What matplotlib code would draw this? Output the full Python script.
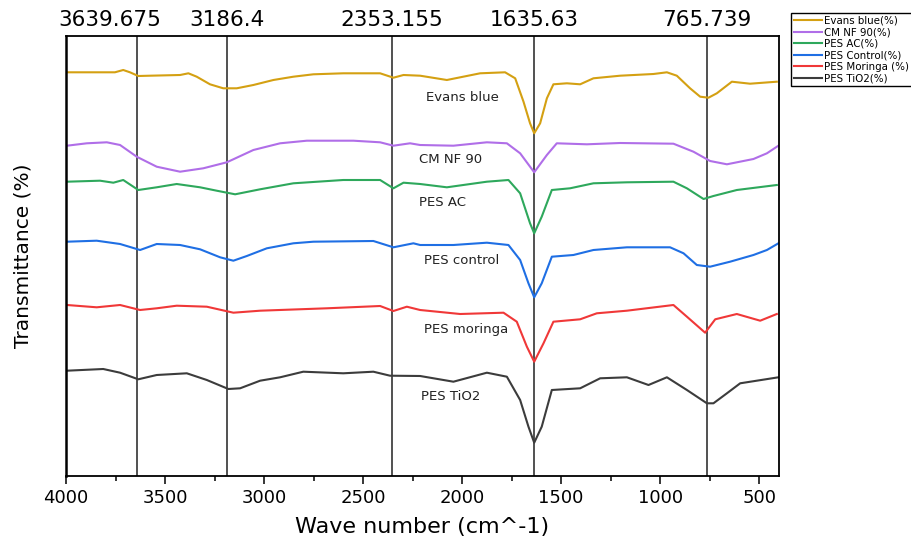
import matplotlib
matplotlib.use("Agg")
import matplotlib.pyplot as plt

# FTIR spectra, offset transmittance (arbitrary units)
evans_wn = [3995, 3753, 3711, 3677, 3635, 3576, 3424, 3382, 3340, 3273, 3206, 3138, 3054, 2953,
            2852, 2751, 2600, 2414, 2347, 2296, 2212, 2077, 1909, 1783, 1732, 1690, 1657, 1636,
            1606, 1572, 1539, 1471, 1404, 1337, 1202, 1034, 966, 916, 849, 798, 756, 714, 638,
            546, 411]
evans_t = [403.7, 403.7, 406, 403.7, 400, 400.3, 401, 402.7, 399.3, 391.7, 387.7, 387.7, 391, 396,
           399.3, 401.7, 402.7, 402.7, 398.3, 401, 400.3, 396, 402.7, 403.7, 397.7, 374.3, 352.7,
           342.7, 352.7, 377.7, 391.7, 392.7, 391.7, 397.7, 400.3, 402, 403.7, 400.3, 387.7, 379.3,
           378.3, 382.7, 394.3, 392.3, 394.3]

cmnf_wn = [3995, 3895, 3794, 3727, 3643, 3542, 3424, 3307, 3188, 3054, 2919, 2784, 2549, 2414,
           2347, 2263, 2212, 2044, 1875, 1774, 1707, 1636, 1572, 1522, 1370, 1202, 933, 832, 748,
           663, 529, 461, 403]
cmnf_t = [330.3, 332.7, 333.7, 331, 319.3, 309.3, 304.3, 307.7, 313.7, 326, 332.7, 335.3, 335.3,
          333.7, 330.3, 332.7, 331, 330.3, 333.7, 332.7, 322.7, 303.7, 321, 332.7, 331.7, 333,
          332.3, 324.3, 315, 311.7, 317, 322.7, 330.3]

ac_wn = [3995, 3828, 3761, 3711, 3635, 3542, 3441, 3323, 3239, 3146, 3020, 2852, 2600, 2414, 2347,
         2296, 2212, 2077, 1875, 1766, 1707, 1657, 1636, 1598, 1547, 1455, 1337, 1168, 933, 865,
         781, 731, 613, 411]
ac_t = [294.3, 295.3, 293.3, 296, 286, 288.7, 292, 288.7, 285.3, 281.7, 286.7, 292.7, 296, 296,
        287.7, 293.3, 292, 288.7, 294.3, 296, 282.7, 252.7, 242.7, 259.3, 286, 287.7, 292.7, 293.7,
        294.3, 287.7, 277, 280, 286, 291]

control_wn = [3995, 3845, 3727, 3626, 3542, 3424, 3323, 3222, 3155, 3087, 2986, 2852, 2751, 2448,
              2347, 2246, 2212, 2044, 1875, 1766, 1707, 1665, 1636, 1598, 1547, 1438, 1337, 1168,
              950, 882, 815, 748, 647, 529, 461, 403]
control_t = [234.3, 235.3, 232, 226, 232, 231, 226.7, 218.7, 215.3, 220, 227.7, 232.7, 234.3, 235,
             228.7, 232.7, 231, 231, 233.3, 231, 216, 192.7, 178.7, 192.7, 219.3, 221, 226, 228.7,
             228.7, 222.7, 211, 209.3, 214.3, 221, 226, 232.7]

moringa_wn = [3995, 3845, 3727, 3626, 3542, 3441, 3289, 3155, 3020, 2683, 2414, 2347, 2279, 2212,
              2010, 1791, 1724, 1673, 1636, 1589, 1539, 1404, 1320, 1168, 933, 865, 773, 722, 613,
              495, 411]
moringa_t = [171, 168.7, 171, 166, 167.7, 170.3, 169.3, 163.3, 165.3, 167.7, 170, 165, 169.3, 166,
             162, 163.3, 154.3, 129.3, 114.3, 132.7, 154.3, 156.7, 162.7, 165.3, 171, 159.3, 143.3,
             156.7, 162, 155.3, 162]

tio2_wn = [3995, 3812, 3727, 3635, 3542, 3390, 3289, 3180, 3121, 3020, 2919, 2802, 2600, 2448,
           2364, 2212, 2044, 1875, 1774, 1707, 1665, 1636, 1598, 1547, 1404, 1303, 1168, 1059,
           966, 865, 764, 731, 663, 596, 403]
tio2_t = [105.3, 107, 103.3, 96.7, 101, 102.7, 96, 87, 87.7, 95.3, 98.7, 104.3, 102.7, 104.3,
          100.3, 100, 94.3, 103.3, 99.3, 76, 49.3, 33.3, 49.3, 86, 87.7, 97.7, 98.7, 91, 98.7, 86,
          72.7, 72.7, 82.7, 92.7, 98.7]

legend_names = ["Evans blue(%)", "CM NF 90(%)", "PES AC(%)", "PES Control(%)",
                "PES Moringa (%)", "PES TiO2(%)"]
curve_names = ["Evans blue", "CM NF 90", "PES AC", "PES control", "PES moringa", "PES TiO2"]
name_wn = [2182, 2217, 2217, 2192, 2192, 2207]
name_t = [379, 316.7, 273.7, 216, 146.7, 80]
colors = ["#d4a012", "#b06ee8", "#2ea85c", "#1f6fe4", "#f03838", "#3c3c3c"]

peaks = [3639.675, 3186.4, 2353.155, 1635.63, 765.739]
peak_labels = ["3639.675", "3186.4", "2353.155", "1635.63", "765.739"]
peak_dx = [-20, 0, 0, 0, 0]

fig = plt.figure(figsize=(9.11, 5.41), dpi=100)
ax = fig.add_axes([66 / 911, 1 - 476 / 541, (779 - 66) / 911, (476 - 36) / 541])

series = [(evans_wn, evans_t), (cmnf_wn, cmnf_t), (ac_wn, ac_t),
          (control_wn, control_t), (moringa_wn, moringa_t), (tio2_wn, tio2_t)]
for (wn, t), c, lab in zip(series, colors, legend_names):
    ax.plot(wn, t, color=c, lw=1.5, label=lab)

for p, lab, dx in zip(peaks, peak_labels, peak_dx):
    ax.axvline(p, color="#333333", lw=1.2, zorder=0)
    ax.annotate(lab, xy=(p, 1), xycoords=("data", "axes fraction"),
                xytext=(dx, 4), textcoords="offset points",
                ha="center", va="bottom", fontsize=15.5)

for name, x, y in zip(curve_names, name_wn, name_t):
    ax.text(x, y, name, fontsize=9.5, ha="left", va="center", color="#222222")

ax.set_xlim(4000, 400)
ax.set_ylim(0, 440)
ax.set_yticks([])
ax.set_xticks([4000, 3500, 3000, 2500, 2000, 1500, 1000, 500])
ax.set_xticks(range(3750, 400, -500), minor=True)
ax.tick_params(axis="x", which="major", labelsize=13, length=6, width=1.1)
ax.tick_params(axis="x", which="minor", length=3.5, width=1.1)
for s in ax.spines.values():
    s.set_linewidth(1.3)
ax.spines["left"].set_linewidth(1.8)

ax.set_xlabel("Wave number (cm^-1)", fontsize=16, labelpad=7)
ax.set_ylabel("Transmittance (%)", fontsize=14.5, labelpad=24)

fig.legend(loc="upper left", bbox_to_anchor=(791 / 911, 1 - 13 / 541), borderaxespad=0,
           fontsize=7.4, frameon=True, fancybox=False, edgecolor="black",
           framealpha=1, handlelength=2.8, handletextpad=0.2, labelspacing=0.15,
           borderpad=0.25)

fig.savefig("out.png", dpi=100)
